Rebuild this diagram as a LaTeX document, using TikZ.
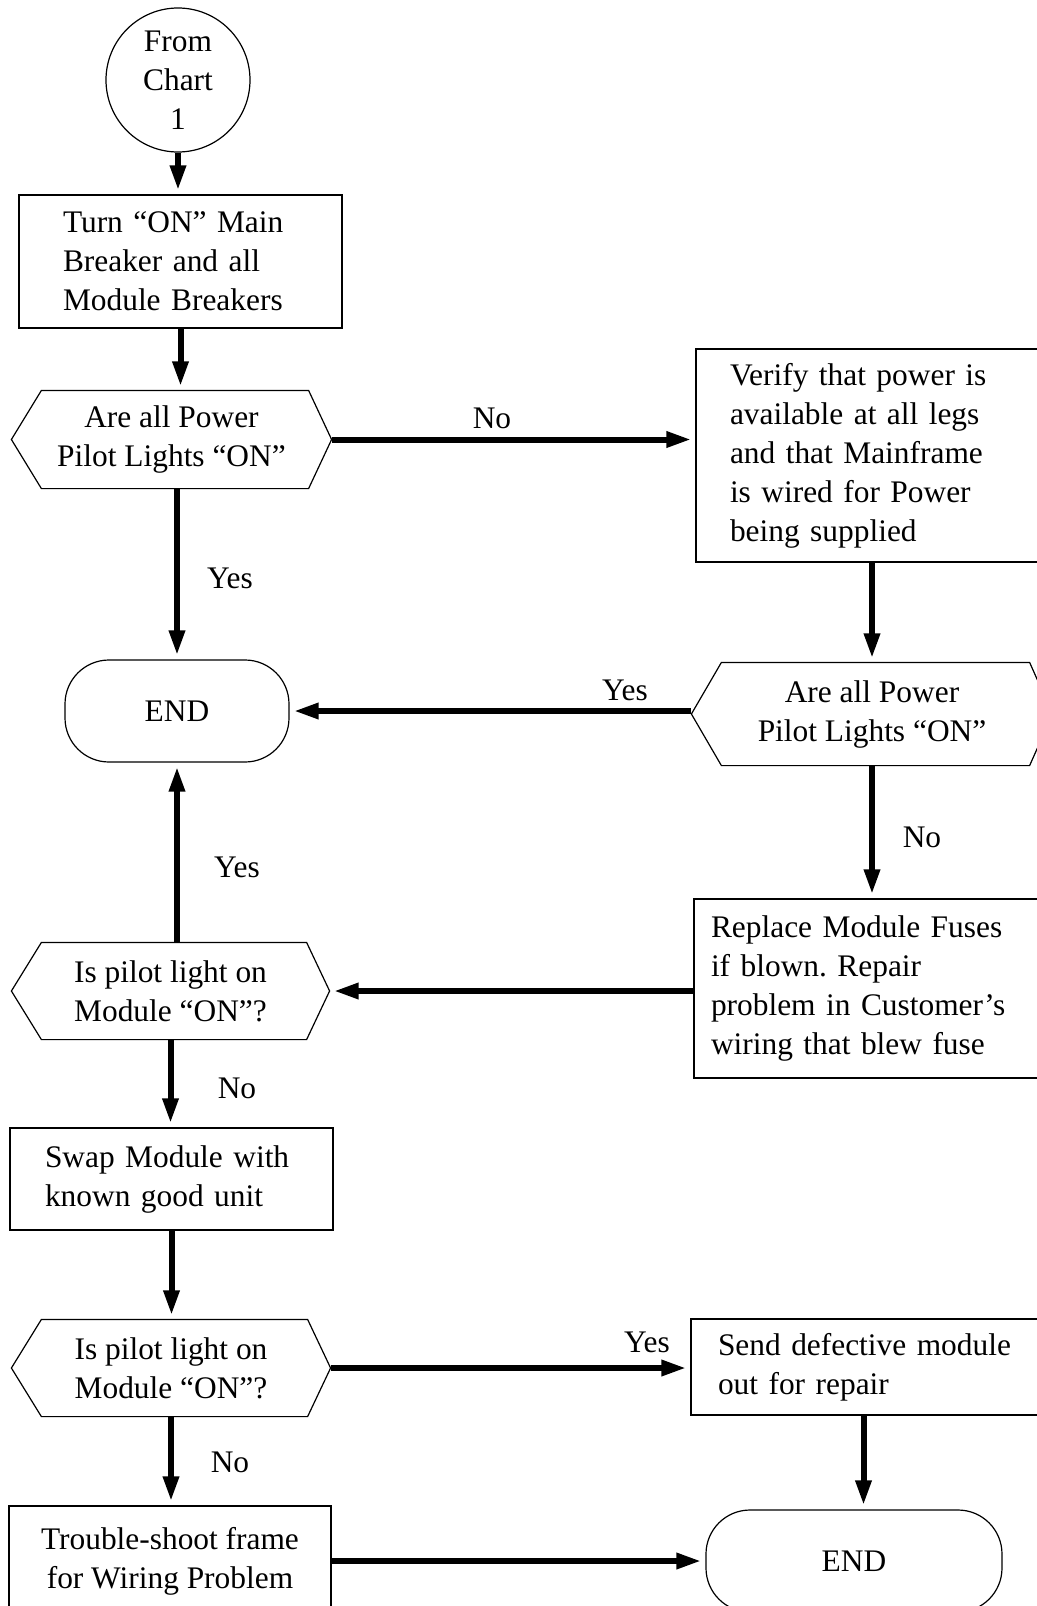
\documentclass[tikz,border=0pt]{standalone}
\usepackage{fontspec}
\setmainfont{Liberation Serif}
\usetikzlibrary{arrows.meta}
\frenchspacing
% hexagon outline drawn round a decision node
\newcommand{\decshape}[1]{\draw (#1.west) -- ([xshift=15pt]#1.north west) -- ([xshift=-11.5pt]#1.north east) -- (#1.east) -- ([xshift=-11.5pt]#1.south east) -- ([xshift=15pt]#1.south west) -- cycle;}
\begin{document}
\begin{tikzpicture}[x=0.5pt, y=-0.5pt, line width=0.6pt,
  every node/.style={font=\fontsize{15.7}{19.5}\selectfont},
  box/.style={draw, rectangle, align=left, inner ysep=0pt},
  dec/.style={rectangle, align=center, inner sep=0pt},
  term/.style={draw, rectangle, rounded corners=22pt, inner sep=0pt},
  flow/.style={line width=3pt, -{Triangle[length=12.5pt,width=7.5pt]}, shorten >=2pt}]
\useasboundingbox (0,0) rectangle (1037,1606);
\clip (0,0) rectangle (1037,1606);
\begin{scope}
\node[draw, circle, minimum size=72pt, inner sep=0pt, align=center] (start) at (178,80) {From\\Chart\\1};
\node[box, minimum height=66.5pt, text width=117.5pt, inner xsep=22pt] (turn) at (180.5,261.5) {Turn “ON” Main\\Breaker and all\\Module Breakers};
\node[dec, minimum width=159.5pt, minimum height=48.5pt] (q1) at (171.5,439.5) {Are all Power\\Pilot Lights “ON”};
\node[box, minimum height=106.5pt, text width=142pt, inner xsep=17pt] (verify) at (872,455.5) {Verify that power is\\available at all legs\\and that Mainframe\\is wired for Power\\being supplied};
\node[dec, minimum width=180pt, minimum height=51pt] (q2) at (872,714) {Are all Power\\Pilot Lights “ON”};
\node[term, minimum width=112pt, minimum height=51pt] (end1) at (177,711) {END};
\node[dec, minimum width=158.5pt, minimum height=48pt] (q3) at (170.5,991) {Is pilot light on\\Module “ON”?};
\node[box, minimum height=89.5pt, text width=161pt, inner xsep=8.5pt] (replace) at (872,988.5) {Replace Module Fuses\\if blown. Repair\\problem in Customer’s\\wiring that blew fuse};
\node[box, minimum height=51pt, text width=126.5pt, inner xsep=17.5pt] (swap) at (171.5,1179) {Swap Module with\\known good unit};
\node[dec, minimum width=159pt, minimum height=48pt] (q4) at (171,1368) {Is pilot light on\\Module “ON”?};
\node[box, minimum height=48pt, text width=152.5pt, inner xsep=13.5pt] (send) at (870.5,1367) {Send defective module\\out for repair};
\node[box, align=center, minimum width=161pt, minimum height=55pt] (trouble) at (170,1561) {Trouble-shoot frame\\for Wiring Problem};
\node[term, minimum width=148pt, minimum height=51pt] (end2) at (854,1561) {END};
\decshape{q1}
\decshape{q2}
\decshape{q3}
\decshape{q4}
%labels
\node (no1) at (492,418) {No};
\node (yes1) at (230,578) {Yes};
\node (yes2) at (625,690) {Yes};
\node (no2) at (922,837) {No};
\node (yes3) at (237,867) {Yes};
\node (no3) at (237,1088) {No};
\node (yes4) at (647,1342) {Yes};
\node (no4) at (230,1462) {No};
\end{scope}
\begin{scope}
\draw[flow] (start.south) -- (start.south |- turn.north);
\draw[flow] (turn.south) -- (turn.south |- q1.north);
\draw[flow] (q1.east) -- (q1.east -| verify.west);
\draw[flow] (end1.north |- q1.south) -- (end1.north);
\draw[flow] (verify.south) -- (q2.north);
\draw[flow] (end1.east -| q2.west) -- (end1.east);
\draw[flow] (q2.south) -- (replace.north);
\draw[flow] (replace.west |- q3.east) -- (q3.east);
\draw[flow] (q3.north -| end1.south) -- (end1.south);
\draw[flow] (q3.south) -- (q3.south |- swap.north);
\draw[flow] (swap.south) -- (swap.south |- q4.north);
\draw[flow] (q4.east) -- (q4.east -| send.west);
\draw[flow] (q4.south) -- (q4.south |- trouble.north);
\draw[flow] ([xshift=-3.5pt]send.south) -- ([xshift=-3.5pt]send.south |- end2.north);
\draw[flow] (trouble.east) -- (trouble.east -| end2.west);
\end{scope}
\end{tikzpicture}
\end{document}
